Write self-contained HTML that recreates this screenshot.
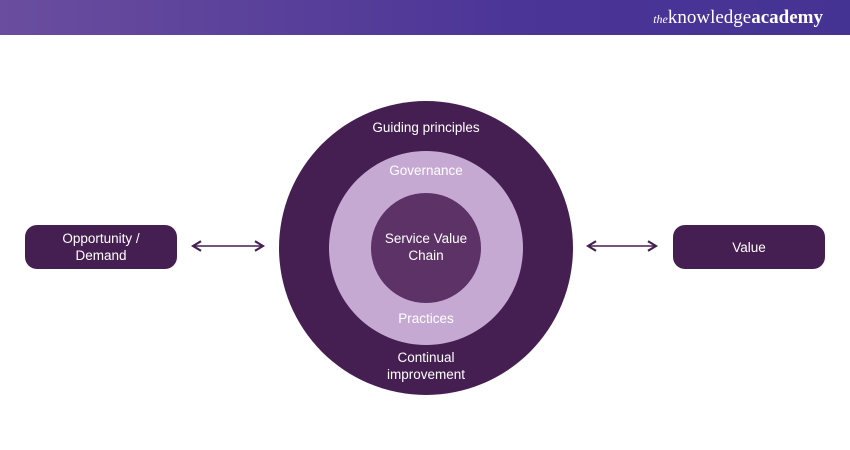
<!DOCTYPE html>
<html><head><style>
body{margin:0;width:850px;height:450px;background:#fff;position:relative;overflow:hidden;font-family:"Liberation Sans",sans-serif}
.hdr{position:absolute;left:0;top:0;width:850px;height:35px;background:linear-gradient(90deg,#6a4d9e,#4b3597 60%,#453394)}
.logo{position:absolute;right:27px;top:7px;color:#fff;font-family:"Liberation Serif",serif;font-size:19px}
.logo i{font-size:12px}
.box{position:absolute;top:225px;width:152px;height:44px;background:#461f52;border-radius:12px;color:#fff;font-size:13.5px;display:flex;align-items:center;justify-content:center;text-align:center;line-height:17px}
</style></head><body>
<div class="hdr"><div class="logo"><i>the</i>knowledge<b>academy</b></div></div>
<div class="box" style="left:25px">Opportunity /<br>Demand</div>
<div class="box" style="left:673px">Value</div>
<svg width="850" height="450" style="position:absolute;left:0;top:0">
<defs><marker id="a" markerWidth="8" markerHeight="8" refX="6" refY="4" orient="auto-start-reverse"><path d="M1,1 L6,4 L1,7" fill="none" stroke="#461f52" stroke-width="1.3"/></marker></defs>
<line x1="193" y1="246" x2="263" y2="246" stroke="#461f52" stroke-width="1.6" marker-start="url(#a)" marker-end="url(#a)"/>
<line x1="588" y1="246" x2="656" y2="246" stroke="#461f52" stroke-width="1.6" marker-start="url(#a)" marker-end="url(#a)"/>
<circle cx="426" cy="248" r="147" fill="#461f52"/>
<circle cx="426" cy="248" r="97" fill="#c6a9d3"/>
<circle cx="426" cy="248" r="55" fill="#5c3267"/>
<g font-family="Liberation Sans" font-size="13.5" fill="#fff" text-anchor="middle">
<text x="426" y="132">Guiding principles</text>
<text x="426" y="175">Governance</text>
<text x="426" y="243">Service Value</text>
<text x="426" y="260">Chain</text>
<text x="426" y="323">Practices</text>
<text x="426" y="362">Continual</text>
<text x="426" y="379">improvement</text>
</g>
</svg>
</body></html>
